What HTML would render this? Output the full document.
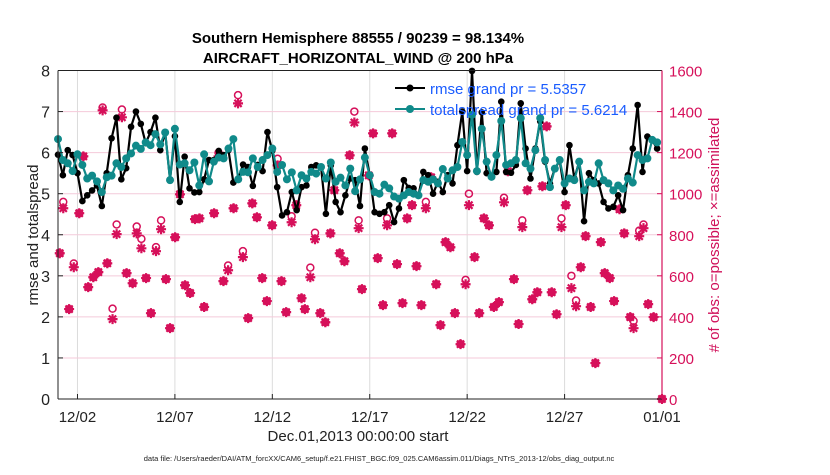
<!DOCTYPE html>
<html><head><meta charset="utf-8"><style>
body{margin:0;background:#fff;}
svg text{font-family:"Liberation Sans",sans-serif;}
</style></head><body>
<svg id="chart" width="830" height="470" viewBox="0 0 830 470" xmlns="http://www.w3.org/2000/svg">
<rect width="830" height="470" fill="#fff"/>
<g id="grid"></g>
<g id="obs"></g>
<g id="lines"></g>
<g id="axes"></g>
<text x="358" y="43" font-size="15" font-weight="bold" text-anchor="middle">Southern Hemisphere 88555 / 90239 = 98.134%</text>
<text x="358" y="63" font-size="15" font-weight="bold" text-anchor="middle">AIRCRAFT_HORIZONTAL_WIND @ 200 hPa</text>
<text x="358" y="441" font-size="15" text-anchor="middle" fill="#222">Dec.01,2013 00:00:00 start</text>
<text x="379" y="461" font-size="7.5" text-anchor="middle" fill="#222">data file: /Users/raeder/DAI/ATM_forcXX/CAM6_setup/f.e21.FHIST_BGC.f09_025.CAM6assim.011/Diags_NTrS_2013-12/obs_diag_output.nc</text>
<text transform="translate(38,235) rotate(-90)" font-size="15" text-anchor="middle" fill="#222">rmse and totalspread</text>
<text transform="translate(719,235) rotate(-90)" font-size="15" text-anchor="middle" fill="#d0105a"># of obs: o=possible; ×=assimilated</text>
<g>
<g>
<line x1="395" y1="88" x2="425" y2="88" stroke="#000" stroke-width="2"/><circle cx="410" cy="88" r="3.5" fill="#000"/>
<text x="430" y="94" font-size="15" fill="#1a5cff">rmse grand pr = 5.5357</text></g>
<g>
<line x1="395" y1="109" x2="425" y2="109" stroke="#108a8a" stroke-width="2"/><circle cx="410" cy="109" r="4" fill="#108a8a"/>
<text x="430" y="115" font-size="15" fill="#1a5cff">totalspread grand pr = 5.6214</text></g>
</g>
</svg>
<script>
// ---- data ----
const rmse = [5.95,5.45,6.06,5.94,5.5,4.82,4.96,5.08,5.2,4.7,5.5,6.35,6.85,5.35,5.62,6.63,7.0,6.7,6.23,6.5,6.85,6.06,6.5,5.35,6.4,4.8,5.9,5.13,5.03,5.04,5.35,5.82,5.82,6.04,5.94,6.06,5.27,5.37,5.71,5.65,5.19,5.7,5.55,6.5,
6.05,5.16,4.47,4.55,5.04,4.6,5.16,5.2,5.65,5.69,5.65,4.51,5.69,4.8,4.55,4.96,5.37,5.33,4.7,6.1,5.45,4.55,4.51,4.55,4.72,4.31,4.64,5.33,5.14,5.13,4.96,5.53,5.45,5.0,5.29,5.04,5.45,5.25,6.18,7.0,
5.55,7.99,5.53,6.98,5.5,5.41,5.53,7.24,5.53,5.51,5.7,7.2,6.1,5.37,6.1,6.76,5.78,5.25,5.61,5.8,5.04,6.18,5.37,5.78,4.33,5.5,5.33,5.25,4.8,4.64,4.68,4.96,4.6,5.45,6.1,7.16,5.53,6.39,6.3,6.1];
const spread = [6.33,5.82,5.74,5.55,5.96,5.7,5.37,5.44,5.3,5.04,5.4,5.44,5.74,5.65,5.86,5.98,6.17,6.09,6.25,6.18,6.45,6.2,6.49,5.33,6.58,5.71,5.74,5.57,5.76,5.2,5.96,5.3,5.78,5.88,5.86,6.1,6.33,5.35,5.53,5.52,5.86,5.65,5.82,5.94,
6.1,5.53,5.7,5.35,5.52,5.08,5.45,5.37,5.53,5.49,5.65,5.37,5.76,5.29,5.39,5.2,5.61,5.06,5.35,5.88,5.45,5.04,5.0,5.22,5.13,4.93,4.88,4.96,5.04,5.0,4.96,5.33,5.29,5.35,5.25,5.6,5.37,5.57,5.65,6.26,
5.94,6.92,5.55,6.58,5.78,5.41,5.94,6.77,5.7,5.74,5.82,6.84,5.74,5.61,6.06,6.84,5.82,5.16,5.61,5.82,5.25,5.37,5.33,5.78,5.08,5.29,5.25,5.74,5.33,5.25,5.08,5.2,5.12,5.37,5.27,5.94,5.82,5.86,6.31,6.25];
const obsDay = [0.09,0.27,0.57,0.81,1.09,1.30,1.55,1.81,2.07,2.29,2.53,2.80,3.01,3.28,3.52,3.83,4.04,4.28,4.52,4.77,5.03,5.29,5.54,5.75,6.01,6.26,6.52,6.78,7.03,7.26,7.50,8.01,8.24,8.49,8.73,9.01,9.24,9.49,9.76,9.97,10.21,10.48,10.72,10.99,11.27,11.47,11.71,11.99,12.23,12.50,12.67,12.95,13.19,13.46,13.72,13.98,14.18,14.46,14.70,14.97,15.21,15.43,15.60,15.95,16.17,16.41,16.68,16.89,17.15,17.40,17.68,17.92,18.17,18.40,18.65,18.88,19.15,19.41,19.63,19.89,20.14,20.37,20.66,20.92,21.09,21.38,21.62,21.86,22.12,22.37,22.63,22.89,23.09,23.40,23.64,23.83,24.09,24.34,24.60,24.86,25.08,25.34,25.59,25.84,26.06,26.35,26.59,26.83,27.08,27.34,27.58,27.86,28.06,28.32,28.54,28.82,29.06,29.37,29.54,29.83,30.05,30.29,30.57,31.00];
const obsAssim = [710,929,438,642,905,1182,545,593,618,1406,661,389,803,1372,613,564,807,734,589,418,720,827,584,345,788,997,554,516,876,880,448,905,1182,574,627,929,1440,691,394,953,885,589,477,846,1138,574,423,861,944,491,438,593,778,418,374,807,1017,710,671,1187,1347,832,535,1089,1294,686,457,846,1294,657,467,880,944,647,457,929,1080,559,360,764,739,418,267,559,944,691,418,880,846,448,472,958,1109,584,365,837,1017,486,520,1036,1328,520,413,837,944,540,452,642,793,448,175,764,613,589,477,924,807,399,345,793,832,462,399,0];
const obsPoss = [710,960,438,660,905,1182,545,593,618,1420,661,440,850,1410,613,564,840,780,589,418,740,870,584,345,788,997,554,516,876,880,448,905,1200,574,650,929,1480,720,394,953,885,589,477,846,1170,574,423,890,944,491,438,640,810,418,374,807,1017,710,671,1187,1400,870,535,1089,1294,686,457,880,1294,657,467,880,944,647,457,960,1080,559,360,764,739,418,267,580,1000,691,418,880,846,448,472,980,1109,584,365,870,1017,486,520,1036,1328,520,413,880,944,600,480,642,793,448,175,764,613,589,477,924,807,399,380,820,850,462,399,0];
const yTicksL = [0,1,2,3,4,5,6,7,8];
const yTicksR = [0,200,400,600,800,1000,1200,1400,1600];
const xTickDays = [1,6,11,16,21,26,31];
const xTickLabels = ['12/02','12/07','12/12','12/17','12/22','12/27','01/01'];

// ---- scales ----
const L=58, R=662, T=70.5, B=399;
const NS='http://www.w3.org/2000/svg';
function xS(d){return L + d*(R-L)/31;}
function yL(v){return B - v*(B-T)/8;}
function yR(v){return B - v*(B-T)/1600;}
function mk(tag, attrs, parent){const e=document.createElementNS(NS,tag);for(const k in attrs)e.setAttribute(k,attrs[k]);parent.appendChild(e);return e;}
const grid=document.getElementById('grid'), axes=document.getElementById('axes'), obs=document.getElementById('obs'), lines=document.getElementById('lines');
const PINK='#d6105a', TEAL='#108a8a';

xTickDays.forEach((d,i)=>{
  const gl=mk('line',{x1:xS(d),x2:xS(d),y1:T,y2:B,stroke:'#dcdcdc','stroke-width':1},grid);
  
  
  mk('line',{x1:xS(d),x2:xS(d),y1:B,y2:B-5,stroke:'#222'},axes);
  const t=mk('text',{x:xS(d),y:B+23,'font-size':15,'text-anchor':'middle',fill:'#222'},axes);
  t.textContent=xTickLabels[i];
  
  
});
yTicksR.forEach(v=>{
  if(v>0 && v<1600){
    const gl=mk('line',{x1:L,x2:R,y1:yR(v),y2:yR(v),stroke:'#f4cada','stroke-width':1},grid);
    
    
  }
  mk('line',{x1:R,x2:R-5,y1:yR(v),y2:yR(v),stroke:PINK},axes);
  const t=mk('text',{x:R+7,y:yR(v)+6,'font-size':15,fill:PINK},axes);
  t.textContent=v;
  
  
});
yTicksL.forEach(v=>{
  mk('line',{x1:L,x2:L+5,y1:yL(v),y2:yL(v),stroke:'#222'},axes);
  const t=mk('text',{x:L-8,y:yL(v)+6,'font-size':16,'text-anchor':'end',fill:'#222'},axes);
  t.textContent=v;
  
  
});
mk('line',{x1:L,x2:R,y1:T,y2:T,stroke:'#222'},axes);
mk('line',{x1:L,x2:R,y1:B,y2:B,stroke:'#222'},axes);
mk('line',{x1:L,x2:L,y1:T,y2:B,stroke:'#222'},axes);
mk('line',{x1:R,x2:R,y1:T,y2:B,stroke:PINK,'stroke-width':1.2},axes);

// obs markers
obsDay.forEach((d,i)=>{
  const x=xS(d), ya=yR(obsAssim[i]), yp=yR(obsPoss[i]);
  const c=mk('circle',{cx:x,cy:yp,r:3.5,fill:'none',stroke:PINK,'stroke-width':1.5},obs);
  
  
  const s=5;
  const p=mk('path',{d:`M${x-s},${ya}H${x+s}M${x},${ya-s}V${ya+s}M${x-3.6},${ya-3.6}L${x+3.6},${ya+3.6}M${x-3.6},${ya+3.6}L${x+3.6},${ya-3.6}`,stroke:PINK,'stroke-width':2.2},obs);
  
  
});

function series(vals,color,r,name){
  const pts=vals.map((v,i)=>xS(i*0.25)+','+yL(v)).join(' ');
  const pl=mk('polyline',{points:pts,fill:'none',stroke:color,'stroke-width':2.2,'stroke-linejoin':'round'},lines);
  
  
  vals.forEach((v,i)=>{
    const c=mk('circle',{cx:xS(i*0.25),cy:yL(v),r:r,fill:color},lines);
    
    
  });
}
series(rmse,'#000',3.3,'rmse');
series(spread,TEAL,4,'totalspread');
</script>
</body></html>
